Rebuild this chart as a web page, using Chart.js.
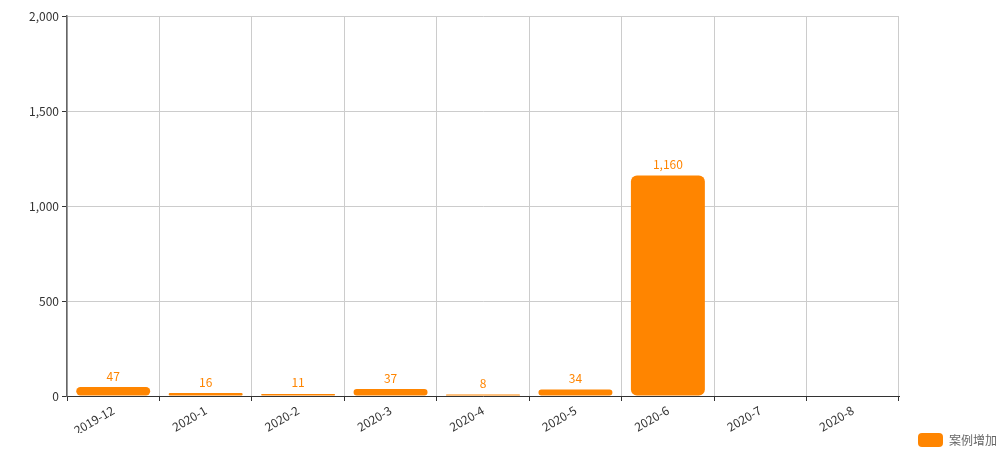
<!DOCTYPE html>
<html><head><meta charset="utf-8">
<script src="https://cdn.jsdelivr.net/npm/chart.js@4/dist/chart.umd.min.js"></script>
<style>html,body{margin:0;padding:0;background:#fff}#wrap{width:1003px;height:457px;position:relative}</style>
</head><body><div id="wrap"><canvas id="c"></canvas></div>
<script>
const categories = ['2019-12','2020-1','2020-2','2020-3','2020-4','2020-5','2020-6','2020-7','2020-8'];
const seriesName = '案例增加';
const values = [47, 16, 11, 37, 8, 34, 1160, null, null];
const yTicks = [0, 500, 1000, 1500, 2000];
const barColor = '#ff8500';
const FONT = '"Noto Sans CJK SC", "Noto Sans", sans-serif';

const valueLabels = {
  id: 'valueLabels',
  afterDatasetsDraw(chart) {
    const ctx = chart.ctx;
    const meta = chart.getDatasetMeta(0);
    ctx.save();
    ctx.font = '12px ' + FONT;
    ctx.fillStyle = barColor;
    ctx.textAlign = 'center';
    ctx.textBaseline = 'bottom';
    meta.data.forEach((bar, i) => {
      const v = chart.data.datasets[0].data[i];
      if (v === null || v === undefined) return;
      ctx.fillText(v.toLocaleString('en-US'), bar.x, bar.y - 5);
    });
    ctx.restore();
  }
};

new Chart(document.getElementById('c'), {
  type: 'bar',
  data: {
    labels: categories,
    datasets: [{
      label: seriesName,
      data: values,
      backgroundColor: barColor,
      borderRadius: 6,
      borderSkipped: false,
      barPercentage: 0.8,
      categoryPercentage: 1.0
    }]
  },
  options: {
    responsive: true,
    maintainAspectRatio: false,
    animation: false,
    layout: { padding: { left: 0, right: 6, top: 16, bottom: 0 } },
    plugins: {
      legend: {
        position: 'bottom',
        align: 'end',
        labels: {
          boxWidth: 25, boxHeight: 14, useBorderRadius: true, borderRadius: 4,
          color: '#666', font: { size: 12, family: FONT }, padding: 0
        }
      },
      tooltip: { enabled: false }
    },
    scales: {
      x: {
        grid: { color: '#cccccc', tickColor: '#333', tickLength: 5, offset: true },
        border: { color: '#333', width: 1 },
        ticks: { color: '#333', font: { size: 12, family: FONT }, maxRotation: 30, minRotation: 30, padding: 2, autoSkip: false },
        afterFit(s) { s.height = 37; }
      },
      y: {
        min: 0, max: 2000,
        afterBuildTicks(s) { s.ticks = yTicks.map(v => ({ value: v })); },
        grid: { color: '#cccccc', tickColor: '#333', tickLength: 5 },
        border: { color: '#666', width: 1.5 },
        ticks: { color: '#333', font: { size: 12, family: FONT }, padding: 3,
          callback: v => v.toLocaleString('en-US') },
        afterFit(s) { s.width = 67; }
      },
      yRight: {
        position: 'right',
        display: true,
        min: 0, max: 2000,
        grid: { display: false, drawOnChartArea: false, drawTicks: false },
        border: { display: false },
        ticks: { display: false },
        afterFit(s) { s.width = 98; }
      }
    }
  },
  plugins: [valueLabels]
});
</script></body></html>
